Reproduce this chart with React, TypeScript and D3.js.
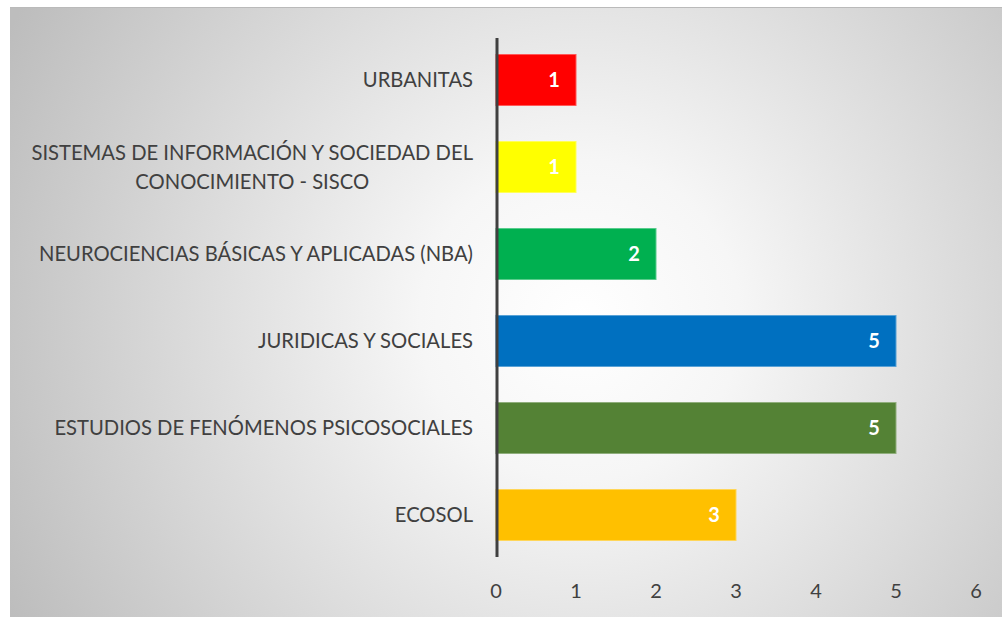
import React, { useEffect, useRef } from 'react'
import * as d3 from 'd3'

const categories = [
  'URBANITAS',
  'SISTEMAS DE INFORMACIÓN Y SOCIEDAD DEL|CONOCIMIENTO - SISCO',
  'NEUROCIENCIAS BÁSICAS Y APLICADAS (NBA)',
  'JURIDICAS Y SOCIALES',
  'ESTUDIOS DE FENÓMENOS PSICOSOCIALES',
  'ECOSOL',
]
const values = [1, 1, 2, 5, 5, 3]
const barColors = ['#FF0000', '#FFFF00', '#00B050', '#0070C0', '#548235', '#FFC000']
const xTicks = [0, 1, 2, 3, 4, 5, 6]

const App = () => {
  const svgRef = useRef<SVGSVGElement>(null)

  useEffect(() => {
    const width = 1002
    const height = 617
    const font = 'Lato, "Noto Sans", sans-serif'

    const svg = d3.select(svgRef.current)
    svg.selectAll('*').remove()
    svg.attr('width', width).attr('height', height)

    // background
    const defs = svg.append('defs')
    const grad = defs
      .append('radialGradient')
      .attr('id', 'bg-grad')
      .attr('gradientUnits', 'userSpaceOnUse')
      .attr('cx', 580)
      .attr('cy', 320)
      .attr('r', 640)
    grad.append('stop').attr('offset', 0).attr('stop-color', '#ffffff')
    grad.append('stop').attr('offset', 0.25).attr('stop-color', '#f6f6f6')
    grad.append('stop').attr('offset', 1).attr('stop-color', '#bdbdbd')

    svg
      .append('rect')
      .attr('x', 10)
      .attr('y', 7)
      .attr('width', width - 10)
      .attr('height', height - 7)
      .attr('fill', 'url(#bg-grad)')
    svg
      .append('line')
      .attr('x1', 10)
      .attr('x2', width)
      .attr('y1', 7.5)
      .attr('y2', 7.5)
      .attr('stroke', '#bababa')
      .attr('stroke-width', 1)

    const x = d3.scaleLinear().domain([0, 6]).range([496, 976])
    const y = d3
      .scaleBand<string>()
      .domain(categories)
      .range([36.5, 558.5])
      .paddingInner(0.414)
      .paddingOuter(0.207)

    // bars
    svg
      .append('g')
      .selectAll('rect')
      .data(values)
      .enter()
      .append('rect')
      .attr('x', x(0))
      .attr('y', (d, i) => y(categories[i])!)
      .attr('width', (d) => x(d) - x(0))
      .attr('height', y.bandwidth())
      .attr('fill', (d, i) => barColors[i])
      .attr('stroke', (d, i) => d3.interpolateRgb(barColors[i], '#ffffff')(0.35))
      .attr('stroke-width', 1)

    // data labels
    svg
      .append('g')
      .selectAll('text')
      .data(values)
      .enter()
      .append('text')
      .attr('x', (d) => x(d) - 22)
      .attr('y', (d, i) => y(categories[i])! + y.bandwidth() / 2)
      .attr('dy', '0.35em')
      .attr('text-anchor', 'middle')
      .style('font-family', font)
      .style('font-size', '20px')
      .style('font-weight', 'bold')
      .style('fill', '#ffffff')
      .text((d) => d)

    // axis line
    svg
      .append('line')
      .attr('x1', x(0) + 1)
      .attr('x2', x(0) + 1)
      .attr('y1', 38)
      .attr('y2', 557)
      .attr('stroke', '#404040')
      .attr('stroke-width', 3)

    // x tick labels
    svg
      .append('g')
      .selectAll('text')
      .data(xTicks)
      .enter()
      .append('text')
      .attr('x', (d) => x(d))
      .attr('y', 598)
      .attr('text-anchor', 'middle')
      .style('font-family', font)
      .style('font-size', '20px')
      .style('fill', '#404040')
      .text((d) => d)

    // category labels
    const labelRight = 473
    const lineH = 29
    const labels = svg.append('g')
    categories.forEach((c) => {
      const lines = c.split('|')
      const cy = y(c)! + y.bandwidth() / 2
      const g = labels.append('g')
      const texts = lines.map((l, j) =>
        g
          .append('text')
          .attr('y', cy + (j - (lines.length - 1) / 2) * lineH)
          .attr('dy', '0.35em')
          .style('font-family', font)
          .style('font-size', '20.2px')
          .style('fill', '#404040')
          .text(l)
      )
      const widths = texts.map((t) => (t.node() as SVGTextElement).getComputedTextLength())
      const center = labelRight - d3.max(widths)! / 2
      texts.forEach((t) => t.attr('x', center).attr('text-anchor', 'middle'))
    })
  }, [])

  return <svg ref={svgRef} style={{ position: 'absolute', left: 0, top: 0 }}></svg>
}

export default App
